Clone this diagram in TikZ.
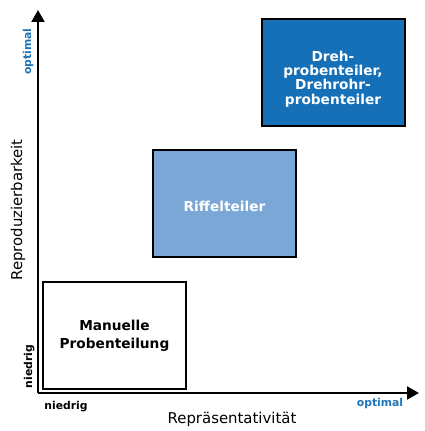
\documentclass[tikz,border=0pt]{standalone}
\usepackage{fontspec}
\setmainfont{DejaVu Sans}
\usepackage{tikz}
\usetikzlibrary{arrows.meta, positioning}

\definecolor{darkblue}{HTML}{1570B8}
\definecolor{lightblue}{HTML}{7BA7D6}
\definecolor{labelblue}{HTML}{1F73B7}

\begin{document}
\begin{tikzpicture}[
    x=1pt, y=1pt,
    every node/.style={inner sep=0pt},
    field/.style={draw=black, line width=2pt, minimum width=143pt, minimum height=107pt, align=center, font=\fontsize{13.7}{18}\selectfont\bfseries},
    fieldtext/.style={align=center, font=\fontsize{13.7}{14.4}\selectfont\bfseries},
    axisline/.style={line width=2pt, -{Triangle[length=12pt, width=13pt]}},
    endlabel/.style={anchor=base, font=\fontsize{10.8}{13}\selectfont\bfseries},
    axtitle/.style={anchor=base, font=\fontsize{14.9}{18}\selectfont}
]
\useasboundingbox (0,0) rectangle (425,431);
% ----- axes -----
\coordinate (origin) at (38,38);
\coordinate (ytip) at (38,421);
\coordinate (xtip) at (419,38);
\draw[axisline] (origin) -- (ytip);
\draw[axisline] (origin) -- (xtip);
% ----- axis labels -----
\node[endlabel, rotate=90, text=labelblue] (yopt) at (31,379.5) {optimal};
\node[endlabel, rotate=90] (ylow) at (32,64.5) {niedrig};
\node[endlabel] (xlow) at (66,21) {niedrig};
\node[endlabel, text=labelblue] (xopt) at (380,24) {optimal};
\node[axtitle] (xtitle) at (232,8) {Repräsentativität};
\node[axtitle, rotate=90] (ytitle) at (22,221) {Reproduzierbarkeit};
% ----- fields -----
\node[field, fill=white] (manual) at (114.5,95.5) {Manuelle\\Probenteilung};
\node[field, fill=lightblue] (riffle) at (224.5,227.5) {};
\node[fieldtext, text=white] (riffletext) at ([yshift=-2.5pt]riffle.center) {Riffelteiler};
\node[field, fill=darkblue] (rotary) at (333,358) {};
\node[fieldtext, text=white] (rotarytext) at ([yshift=-6pt]rotary.center) {Dreh-\\probenteiler,\\Drehrohr-\\probenteiler};
\end{tikzpicture}
\end{document}
